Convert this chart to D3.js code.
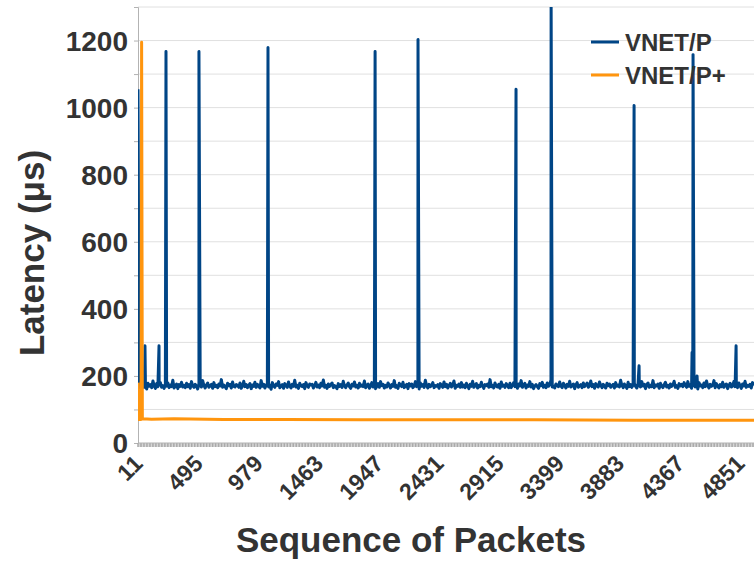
<!DOCTYPE html>
<html>
<head>
<meta charset="utf-8">
<script src="https://cdn.jsdelivr.net/npm/d3@7"></script>
<style>
body { margin: 0; background: #fff; }
text { font-family: "Liberation Sans", Arial, sans-serif; font-weight: bold; fill: #333; }
</style>
</head>
<body>
<div id="chart"></div>
<script>
// sequence range shown and x tick labels
var seqFirst = 11;
var seqLast = 4963;
var baseStep = 10;
var xTickLabels = [11, 495, 979, 1463, 1947, 2431, 2915, 3399, 3883, 4367, 4851];
var yTickLabels = [0, 200, 400, 600, 800, 1000, 1200];

// VNET/P steady latency, one reading every 10 packets starting at packet 11
var blueBase = [
170,164,176,168,182,166,172,161,178,169,174,165,185,170,163,177,168,173,180,166,
171,163,175,169,179,165,173,168,187,164,170,176,162,174,169,181,167,172,165,178,
168,174,163,183,170,166,175,169,161,177,172,167,186,171,164,173,179,166,170,175,
163,180,168,172,165,176,170,189,166,173,168,162,178,171,175,164,182,169,167,174,
172,166,179,163,170,184,168,174,165,171,177,162,173,169,181,166,175,170,164,186,
169,175,164,171,178,167,173,160,180,170,166,176,172,183,165,169,174,163,177,171,
166,182,170,164,175,169,187,167,172,163,178,171,168,174,162,180,170,166,176,173,
175,164,171,181,167,173,165,178,170,188,166,172,163,176,169,174,179,165,171,168,
162,177,169,174,166,184,171,165,173,179,168,163,175,170,182,167,172,164,178,169,
173,168,185,165,171,176,163,170,180,167,174,162,169,177,166,183,171,175,164,172,
167,179,172,164,174,169,186,166,171,163,178,173,168,181,165,170,175,162,177,170,
176,165,170,183,168,173,161,179,169,174,166,187,171,164,175,168,172,180,165,171,
169,174,163,177,171,166,182,168,175,164,170,178,167,173,185,163,172,169,176,166,
180,167,173,165,178,170,162,175,169,184,166,171,177,164,172,168,181,170,163,174,
171,176,166,189,168,172,164,179,170,167,175,163,182,169,173,166,177,171,165,178,
165,172,180,168,174,163,176,170,186,166,171,178,164,173,169,183,167,175,162,170,
174,168,163,177,171,181,166,172,165,179,169,174,188,167,170,164,176,172,168,182,
170,165,178,172,164,175,169,184,167,171,176,162,173,180,166,170,174,165,179,168,
173,179,166,171,185,168,174,163,177,170,167,182,172,165,175,169,164,178,171,176,
166,171,175,164,180,169,173,167,187,172,165,176,170,163,181,168,174,166,172,178,
169,164,177,171,167,183,170,175,162,174,179,166,172,168,186,165,173,170,176,163,
178,170,165,174,181,167,172,164,176,169,173,184,166,171,163,177,170,175,168,180,
172,166,183,169,174,163,178,171,167,175,161,180,170,173,165,179,168,185,171,164,
175,169,172,186,165,177,170,164,174,168,181,166,173,176,162,171,178,167,170,183,
168,174,165,179,171,163,176,170,184,166,172,169,175,164,180,171
];

// VNET/P latency spikes: packet number, latency
var blueSpikeSeq = [11, 67, 180, 236, 501, 1056, 1917, 2262, 3050, 3332, 3999, 4039, 4465, 4473, 4505, 4819];
var blueSpikeVal = [1055, 290, 290, 1167, 1167, 1179, 1167, 1203, 1055, 1320, 1006, 230, 270, 1158, 200, 290];

// VNET/P+ latency
var orangeSeq = [11, 16, 36, 40, 46, 120, 300, 700, 1200, 1800, 2500, 3200, 4000, 4600, 4963];
var orangeVal = [180, 70, 70, 1195, 72, 71, 72, 70, 70, 69, 69, 69, 68, 68, 68];

var width = 754, height = 562;
var margin = {left: 138, top: 7, right: 0, bottom: 119};

var svg = d3.select("#chart").append("svg")
    .attr("width", width)
    .attr("height", height);

var x = d3.scaleLinear()
    .domain([seqFirst, seqLast])
    .range([margin.left, width - margin.right]);

var y = d3.scaleLinear()
    .domain([0, 1300])
    .range([height - margin.bottom, margin.top]);

// grid lines every 100
svg.append("g").selectAll("line")
    .data(d3.range(100, 1301, 100))
    .enter().append("line")
    .attr("x1", margin.left).attr("x2", width)
    .attr("y1", function(d) { return y(d); })
    .attr("y2", function(d) { return y(d); })
    .style("stroke", "#e0e0e0")
    .style("stroke-width", 1);

// y axis
var yAxis = svg.append("g")
    .attr("transform", "translate(" + margin.left + ",0)")
    .call(d3.axisLeft(y).tickValues(d3.range(0, 1301, 100)).tickSize(4).tickFormat(""));
yAxis.select(".domain").style("stroke", "#b3b3b3");
yAxis.selectAll(".tick line").style("stroke", "#b3b3b3");

svg.append("g").selectAll("text")
    .data(yTickLabels)
    .enter().append("text")
    .attr("x", 128)
    .attr("y", function(d) { return y(d); })
    .attr("dy", ".36em")
    .style("text-anchor", "end")
    .style("font-size", "28px")
    .text(function(d) { return d; });

// x axis with dense minor ticks
var y0 = y(0);
svg.append("rect")
    .attr("x", margin.left).attr("y", y0)
    .attr("width", width - margin.left).attr("height", 4)
    .style("fill", "#d6d6d6");
svg.append("g").selectAll("line")
    .data(d3.range(seqFirst, seqLast, 24))
    .enter().append("line")
    .attr("x1", function(d) { return x(d); })
    .attr("x2", function(d) { return x(d); })
    .attr("y1", y0).attr("y2", y0 + 4)
    .style("stroke", "#aaaaaa")
    .style("stroke-width", 1.5);
svg.append("line")
    .attr("x1", margin.left).attr("x2", width)
    .attr("y1", y0).attr("y2", y0)
    .style("stroke", "#b3b3b3");

svg.append("g").selectAll("text")
    .data(xTickLabels)
    .enter().append("text")
    .attr("transform", function(d) { return "translate(" + (x(d) + 6) + "," + (y0 + 22) + ") rotate(-45)"; })
    .style("text-anchor", "end")
    .style("font-size", "23px")
    .text(function(d) { return d; });

// series
svg.append("clipPath").attr("id", "plotClip")
    .append("rect")
    .attr("x", margin.left).attr("y", margin.top)
    .attr("width", width - margin.left)
    .attr("height", y0 - margin.top);

var bluePts = blueBase.map(function(v, i) { return [seqFirst + i * baseStep, v]; });
for (var i = 0; i < blueSpikeSeq.length; i++) {
    bluePts.push([blueSpikeSeq[i], blueSpikeVal[i]]);
}
bluePts.sort(function(a, b) { return a[0] - b[0] || a[1] - b[1]; });
// first reading is the spike itself
bluePts = bluePts.filter(function(p) { return !(p[0] == seqFirst && p[1] < 1000); });

var orangePts = orangeSeq.map(function(s, i) { return [s, orangeVal[i]]; });

var line = d3.line()
    .x(function(d) { return x(d[0]); })
    .y(function(d) { return y(d[1]); });

var plot = svg.append("g").attr("clip-path", "url(#plotClip)");

plot.append("path")
    .datum(bluePts)
    .attr("d", line)
    .style("fill", "none")
    .style("stroke", "#004586")
    .style("stroke-width", 3)
    .style("stroke-linejoin", "round");

plot.append("path")
    .datum(orangePts)
    .attr("d", line)
    .style("fill", "none")
    .style("stroke", "#ff950e")
    .style("stroke-width", 3)
    .style("stroke-linejoin", "round");

// legend
var legend = [["VNET/P", "#004586", 42], ["VNET/P+", "#ff950e", 75]];
var lg = svg.append("g").selectAll("g")
    .data(legend)
    .enter().append("g");
lg.append("line")
    .attr("x1", 591).attr("x2", 619)
    .attr("y1", function(d) { return d[2]; })
    .attr("y2", function(d) { return d[2]; })
    .style("stroke", function(d) { return d[1]; })
    .style("stroke-width", 3);
lg.append("text")
    .attr("x", 625)
    .attr("y", function(d) { return d[2]; })
    .attr("dy", ".36em")
    .style("font-size", "24px")
    .text(function(d) { return d[0]; });

// axis titles
svg.append("text")
    .attr("transform", "translate(44,253) rotate(-90)")
    .style("text-anchor", "middle")
    .style("font-size", "35px")
    .text("Latency (μs)");

svg.append("text")
    .attr("x", 411)
    .attr("y", 552)
    .style("text-anchor", "middle")
    .style("font-size", "35px")
    .text("Sequence of Packets");
</script>
</body>
</html>
